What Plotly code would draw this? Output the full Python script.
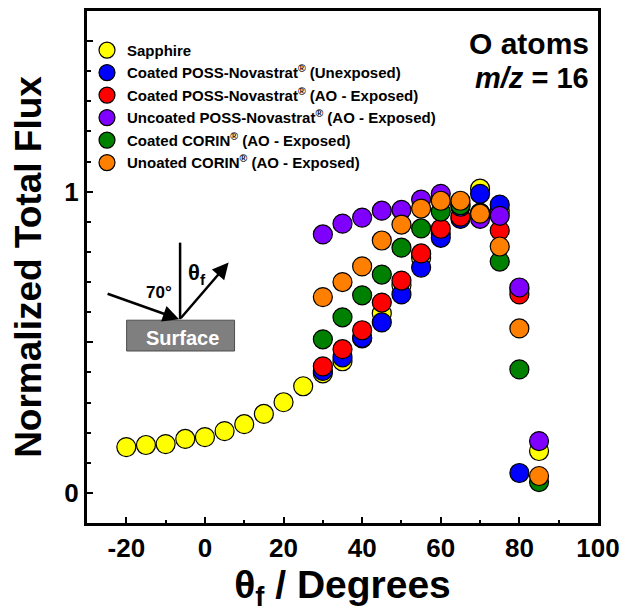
import plotly.graph_objects as go

# ---- data ----
x_sapphire = [-20, -15, -10, -5, 0, 5, 10, 15, 20, 25, 30, 35, 40, 45, 50, 55, 60, 65, 70, 75, 80, 85]
y_sapphire = [0.152, 0.159, 0.162, 0.179, 0.185, 0.205, 0.228, 0.262, 0.301, 0.354, 0.397, 0.437,
              0.513, 0.596, 0.689, 0.780, 0.860, 0.960, 1.010, 0.937, 0.675, 0.139]

x_coated_unexp = [30, 35, 40, 45, 50, 55, 60, 65, 70, 75, 80]
y_coated_unexp = [0.405, 0.450, 0.515, 0.566, 0.659, 0.748, 0.847, 0.910, 0.993, 0.957, 0.066]

x_coated_exp = [30, 35, 40, 45, 50, 55, 60, 65, 70, 75, 80]
y_coated_exp = [0.420, 0.477, 0.540, 0.632, 0.705, 0.795, 0.877, 0.917, 0.930, 0.871, 0.659]

x_uncoated_poss = [30, 35, 40, 45, 50, 55, 60, 65, 70, 75, 80, 85]
y_uncoated_poss = [0.858, 0.894, 0.914, 0.937, 0.940, 0.974, 0.993, 0.950, 0.910, 0.920, 0.682, 0.172]

x_coated_corin = [30, 35, 40, 45, 50, 55, 60, 65, 70, 75, 80, 85]
y_coated_corin = [0.510, 0.583, 0.656, 0.725, 0.814, 0.878, 0.934, 0.955, 0.930, 0.768, 0.410, 0.036]

x_uncoated_corin = [30, 35, 40, 45, 50, 55, 60, 65, 70, 75, 80, 85]
y_uncoated_corin = [0.650, 0.700, 0.752, 0.838, 0.891, 0.944, 0.970, 0.970, 0.927, 0.818, 0.546, 0.056]

x_tick_labels = {"\u221220": "-20"}
y_tick_labels = {"0.5": "", "1.5": ""}

series = [
    ("Sapphire", x_sapphire, y_sapphire, "#FFFF00"),
    ("Coated POSS-Novastrat<sup>®</sup> (Unexposed)", x_coated_unexp, y_coated_unexp, "#0000FF"),
    ("Coated POSS-Novastrat<sup>®</sup> (AO - Exposed)", x_coated_exp, y_coated_exp, "#FF0000"),
    ("Uncoated POSS-Novastrat<sup>®</sup> (AO - Exposed)", x_uncoated_poss, y_uncoated_poss, "#8000FF"),
    ("Coated CORIN<sup>®</sup> (AO - Exposed)", x_coated_corin, y_coated_corin, "#008000"),
    ("Unoated CORIN<sup>®</sup> (AO - Exposed)", x_uncoated_corin, y_uncoated_corin, "#FF8000"),
]

FONT = "Liberation Sans, Arial, sans-serif"

fig = go.Figure()
for name, xs, ys, col in series:
    fig.add_trace(go.Scatter(
        x=xs, y=ys, mode="markers", name=name,
        marker=dict(size=19, color=col, line=dict(color="black", width=1.2)),
    ))

axis_common = dict(
    showline=True, linecolor="black", linewidth=3, mirror=True,
    ticks="inside", tickcolor="black", tickwidth=2, ticklen=6,
    showgrid=False, zeroline=False,
    tickfont=dict(family=FONT, size=26, color="black", weight="bold"),
)

fig.update_xaxes(
    range=[-30, 100], dtick=20, tick0=0,
    labelalias=x_tick_labels,
    minor=dict(dtick=10, ticks="inside", ticklen=3.5, tickwidth=2, tickcolor="black"),
    title=dict(text="θ<sub>f</sub> / Degrees", font=dict(family=FONT, size=39, color="black", weight="bold"),
               standoff=6),
    **axis_common,
)
fig.update_yaxes(
    range=[-0.1, 1.6], dtick=0.5, tick0=0,
    labelalias=y_tick_labels,
    minor=dict(dtick=0.1, ticks="inside", ticklen=3.5, tickwidth=2, tickcolor="black"),
    title=dict(text="Normalized Total Flux", font=dict(family=FONT, size=37, color="black", weight="bold"),
               standoff=12),
    **axis_common,
)

# inset diagram (paper coords)
def px(xpix):
    return (xpix - 87) / 516

def py(ypix):
    return (523 - ypix) / 515

fig.add_shape(type="rect", xref="paper", yref="paper",
              x0=px(127), x1=px(236), y0=py(350), y1=py(319),
              fillcolor="#7f7f7f", line=dict(color="#4d4d4d", width=1))
fig.add_shape(type="line", xref="paper", yref="paper",
              x0=px(181), x1=px(181), y0=py(241), y1=py(318),
              line=dict(color="black", width=2.5))

annotations = [
    dict(x=px(230), y=py(261), xref="paper", yref="paper", ax=-49, ay=57,
         showarrow=True, arrowhead=2, arrowsize=1.3, arrowwidth=2.5, arrowcolor="black", text=""),
    dict(x=px(180), y=py(318), xref="paper", yref="paper", ax=-73, ay=-26,
         showarrow=True, arrowhead=2, arrowsize=1.3, arrowwidth=2.5, arrowcolor="black", text=""),
    dict(x=px(183), y=py(337), xref="paper", yref="paper", showarrow=False,
         xanchor="center", yanchor="middle",
         text="<b>Surface</b>", font=dict(family=FONT, size=20, color="white")),
    dict(x=px(160), y=py(291), xref="paper", yref="paper", showarrow=False,
         xanchor="center", yanchor="middle",
         text="<b>70°</b>", font=dict(family=FONT, size=17, color="black")),
    dict(x=px(198), y=py(273), xref="paper", yref="paper", showarrow=False,
         xanchor="center", yanchor="middle",
         text="<b>θ<sub>f</sub></b>", font=dict(family=FONT, size=22, color="black")),
    dict(x=px(596), y=py(41), xref="paper", yref="paper", showarrow=False,
         xanchor="right", yanchor="middle",
         text="<b>O atoms</b>", font=dict(family=FONT, size=30, color="black")),
    dict(x=px(596), y=py(75), xref="paper", yref="paper", showarrow=False,
         xanchor="right", yanchor="middle",
         text="<b><i>m/z</i> = 16</b>", font=dict(family=FONT, size=29, color="black")),
]
fig.update_layout(annotations=annotations)

fig.update_layout(
    width=628, height=615,
    margin=dict(l=87, r=25, t=8, b=92),
    paper_bgcolor="white", plot_bgcolor="white",
    font=dict(family=FONT, color="black"),
    legend=dict(
        x=0.0, y=py(31), xanchor="left", yanchor="top",
        bgcolor="rgba(0,0,0,0)", borderwidth=0,
        font=dict(family=FONT, size=15, color="black", weight="bold"),
        itemsizing="trace", tracegroupgap=0,
    ),
    showlegend=True,
)

fig.write_html("out.html")
